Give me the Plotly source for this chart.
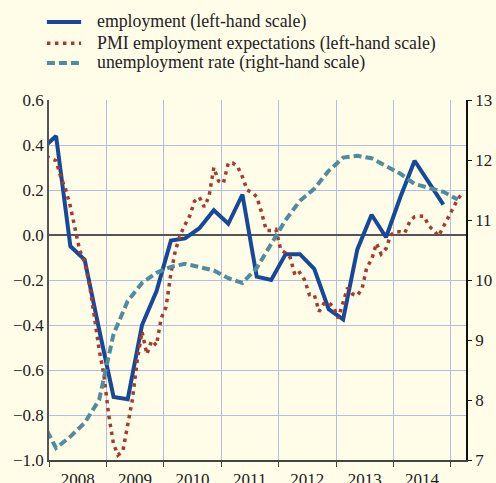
import pandas as pd
import plotly.graph_objects as go

# quarterly dates (mid-quarter), 2007Q4 .. 2015Q1
q_dates = pd.date_range("2007-10-01", "2015-01-01", freq="QS") + pd.Timedelta(days=45)
# monthly dates (mid-month), Dec 2007 .. Mar 2015
m_dates = pd.date_range("2007-12-01", "2015-03-01", freq="MS") + pd.Timedelta(days=14)

years = ["2008", "2009", "2010", "2011", "2012", "2013", "2014"]

# employment, q/q % change (left-hand scale), 2007Q4 .. 2014Q4
employment = [0.38, 0.44, -0.05, -0.11, -0.42,
              -0.72, -0.73, -0.40, -0.25,
              -0.025, -0.015, 0.03, 0.11,
              0.05, 0.18, -0.185, -0.20,
              -0.085, -0.085, -0.15, -0.33,
              -0.375, -0.065, 0.09, -0.01,
              0.17, 0.33, 0.235, 0.135]

# PMI employment expectations (left-hand scale), Dec 2007 .. Mar 2015
pmi = [0.35,
       0.34, 0.33, 0.26, 0.205, 0.13, 0.02, -0.07, -0.12, -0.22, -0.36, -0.51, -0.62,
       -0.80, -0.93, -0.978, -0.96, -0.85, -0.73, -0.56, -0.43, -0.53, -0.47, -0.49, -0.37,
       -0.32, -0.17, -0.07, 0.0, 0.045, 0.085, 0.15, 0.168, 0.125, 0.17, 0.30, 0.24,
       0.23, 0.32, 0.32, 0.305, 0.26, 0.20, 0.19, 0.17, 0.10, 0.02, 0.02, 0.025,
       -0.065, -0.08, -0.10, -0.18, -0.167, -0.2, -0.265, -0.264, -0.34, -0.305, -0.3, -0.32,
       -0.37, -0.30, -0.235, -0.262, -0.27, -0.24, -0.145, -0.11, -0.037, -0.085, -0.06, 0.0,
       0.015, 0.015, 0.01, 0.06, 0.081, 0.084, 0.083, 0.04, 0.02, -0.005, 0.035, 0.08,
       0.12, 0.16, 0.185]

# unemployment rate, % (right-hand scale), 2007Q4 .. 2015Q1
unemployment = [7.66,
                7.2, 7.39, 7.62, 8.0,
                9.1, 9.65, 9.95, 10.12,
                10.22, 10.27, 10.22, 10.16,
                10.03, 9.95, 10.2, 10.6,
                11.0, 11.32, 11.52, 11.82,
                12.04, 12.07, 12.03, 11.9,
                11.77, 11.6, 11.54, 11.47,
                11.34]

names = ["employment (left-hand scale)",
         "PMI employment expectations (left-hand scale)",
         "unemployment rate (right-hand scale)"]

bg = "#FFFCE8"
grid = "#B3BEE6"
font = "Times New Roman, Liberation Serif, Tinos, serif"
styles = [dict(color="#17499A", width=4),
          dict(color="#A73A30", width=3.5, dash="3.5px,4.5px"),
          dict(color="#4F8D9C", width=4, dash="8px,4px")]

fig = go.Figure()
fig.add_trace(go.Scatter(x=q_dates[:len(employment)], y=employment, mode="lines",
                         name=names[0], line=styles[0]))
fig.add_trace(go.Scatter(x=m_dates, y=pmi, mode="lines",
                         name=names[1], line=styles[1]))
fig.add_trace(go.Scatter(x=q_dates, y=unemployment, mode="lines", yaxis="y2",
                         name=names[2], line=styles[2]))

# legend drawn by hand above the plot (plotly's own legend rows are too far apart)
row_y = [1.217, 1.1575, 1.103]
for name, st, ry in zip(names, styles, row_y):
    fig.add_shape(type="line", xref="paper", yref="paper",
                  x0=-0.005, x1=0.077, y0=ry, y1=ry, line=st)
    fig.add_annotation(xref="paper", yref="paper", x=0.11, y=ry,
                       xanchor="left", yanchor="middle", showarrow=False,
                       text=name, font=dict(size=17.8, color="#222"))

fig.update_layout(
    width=496, height=483,
    margin=dict(l=49, r=30, t=100, b=23, autoexpand=False),
    paper_bgcolor=bg, plot_bgcolor=bg,
    font=dict(family=font, size=17, color="#222"),
    showlegend=False,
    xaxis=dict(
        type="date", range=["2008-01-01", "2015-04-08"],
        tickvals=[y + "-07-02" for y in years], ticktext=years,
        ticks="", showgrid=False, ticklabelstandoff=3,
        showline=True, linecolor="#444", linewidth=1.5,
        minor=dict(dtick="M12", tick0="2008-01-01", ticks="outside", ticklen=5,
                   tickcolor="#444", showgrid=True, gridcolor=grid, gridwidth=1),
        zeroline=False,
    ),
    yaxis=dict(
        range=[-1.0, 0.6], dtick=0.2, tickformat=".1f",
        showgrid=True, gridcolor=grid, gridwidth=1,
        zeroline=True, zerolinecolor="#555", zerolinewidth=1.5,
        showline=True, linecolor="#555", linewidth=1.5, ticks="",
    ),
    yaxis2=dict(
        range=[7, 13], dtick=1, overlaying="y", side="right",
        showgrid=False, zeroline=False,
        showline=True, linecolor="#111", linewidth=1.5,
        ticks="outside", ticklen=4, tickcolor="#111",
    ),
)

# the page's default 8px body margin would shift the figure
fig.write_html("out.html", config={"displayModeBar": False},
               post_script="document.body.style.margin='0';"
                           "document.body.style.background='" + bg + "';")
